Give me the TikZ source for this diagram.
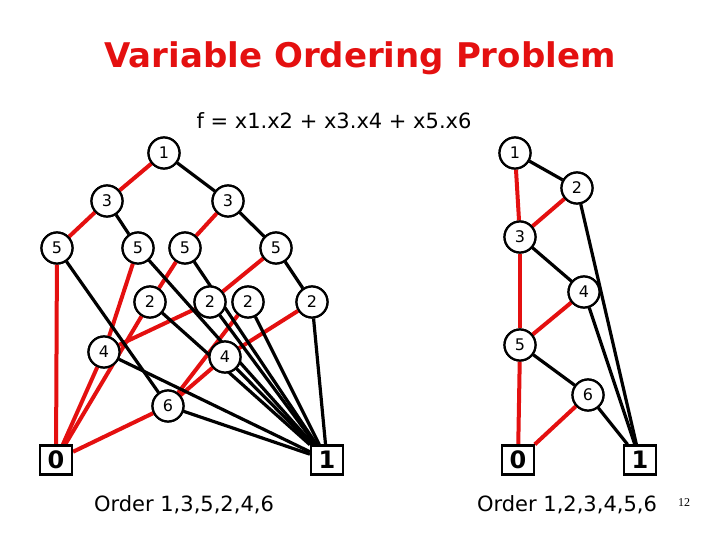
\documentclass[tikz,border=0pt]{standalone}
\usepackage{fontspec}
\setmainfont{DejaVu Sans}
\newfontfamily\pgfont{Liberation Serif}
\definecolor{tred}{RGB}{228,16,16}
\begin{document}
\begin{tikzpicture}[x=1pt,y=-1pt,
  nd/.style={circle,draw,line width=2.2pt,fill=white,minimum size=31pt,inner sep=0pt,font=\fontsize{16}{16}\selectfont},
  term/.style={rectangle,draw,line width=2.2pt,fill=white,minimum width=32pt,minimum height=29pt,inner sep=0pt,font=\fontsize{24}{24}\selectfont\bfseries},
  hi/.style={line width=3.2pt,black},
  lo/.style={line width=4pt,tred}]
\useasboundingbox (0,0) rectangle (720,540);
\node[font=\fontsize{34}{34}\selectfont\bfseries,text=tred] (title) at (360,58) {Variable Ordering Problem};
\node[font=\fontsize{21}{21}\selectfont] (f) at (334,121) {f = x1.x2 + x3.x4 + x5.x6};
% left
\node[nd] (a1) at (164,153) {1};
\node[nd] (a3a) at (107,201) {3};
\node[nd] (a3b) at (228,201) {3};
\node[nd] (a5a) at (57,248) {5};
\node[nd] (a5b) at (138,248) {5};
\node[nd] (a5c) at (185,248) {5};
\node[nd] (a5d) at (276,248) {5};
\node[nd] (a2a) at (150,302) {2};
\node[nd] (a2b) at (210,302) {2};
\node[nd] (a2c) at (248,302) {2};
\node[nd] (a2d) at (312,302) {2};
\node[nd] (a4a) at (104,352) {4};
\node[nd] (a4b) at (225,357) {4};
\node[nd] (a6) at (168,406) {6};
\node[term] (a0) at (56,460) {0};
\node[term] (aT) at (327,460) {1};
% right
\node[nd] (b1) at (515,153) {1};
\node[nd] (b2) at (577,188) {2};
\node[nd] (b3) at (520,237) {3};
\node[nd] (b4) at (584,292) {4};
\node[nd] (b5) at (520,345) {5};
\node[nd] (b6) at (588,395) {6};
\node[term] (b0) at (518,460) {0};
\node[term] (bT) at (640,460) {1};
\foreach \u/\v in {a1/a3a,a3a/a5a,a3b/a5c,a5a/a0,a5b/a4a,a5c/a2a,a5d/a2b,a2a/a0,a2b/a4a,a2c/a6,a2d/a4b,a4a/a0,a4b/a6,a6/a0,b1/b3,b2/b3,b3/b5,b4/b5,b5/b0,b6/b0}
  \draw[lo] (\u) -- (\v);
\foreach \u/\v in {a1/a3b,a3a/a5b,a3b/a5d,a5a/a6,a5b/aT,a5c/aT,a5d/a2d,a2a/aT,a2b/aT,a2c/aT,a2d/aT,a4a/aT,a4b/aT,a6/aT,b1/b2,b2/bT,b3/b4,b4/bT,b5/b6,b6/bT}
  \draw[hi] (\u) -- (\v);
\foreach \p/\t in {{164,153}/1,{107,201}/3,{228,201}/3,{57,248}/5,{138,248}/5,{185,248}/5,{276,248}/5,{150,302}/2,{210,302}/2,{248,302}/2,{312,302}/2,{104,352}/4,{225,357}/4,{168,406}/6,{515,153}/1,{577,188}/2,{520,237}/3,{584,292}/4,{520,345}/5,{588,395}/6}
  \node[nd] at (\p) {\t};
\foreach \p/\t in {{56,460}/0,{327,460}/1,{518,460}/0,{640,460}/1}
  \node[term] at (\p) {\t};
\node[font=\fontsize{21}{21}\selectfont] (oa) at (184,505) {Order 1,3,5,2,4,6};
\node[font=\fontsize{21}{21}\selectfont] (ob) at (567,505) {Order 1,2,3,4,5,6};
\node[font=\fontsize{12}{12}\selectfont\pgfont] (pg) at (684,503) {12};
\end{tikzpicture}
\end{document}
